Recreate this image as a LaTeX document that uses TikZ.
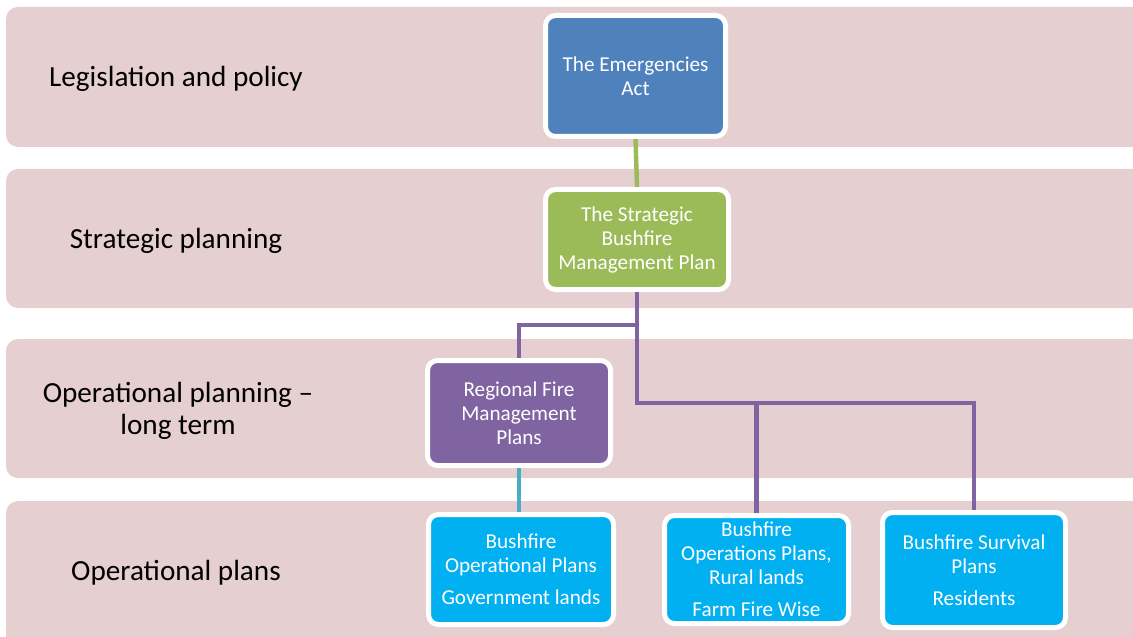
\documentclass[tikz,border=0pt]{standalone}
\usepackage{fontspec}
\setmainfont{Carlito}
\usepackage{tikz}

\definecolor{bandpink}{RGB}{230,207,208}
\definecolor{actblue}{RGB}{79,129,189}
\definecolor{stratgreen}{RGB}{155,187,89}
\definecolor{regpurple}{RGB}{128,100,162}
\definecolor{opcyan}{RGB}{0,176,240}
\definecolor{linkcyan}{RGB}{75,172,198}

\tikzset{
  band/.style={fill=bandpink, rounded corners=6pt},
  levellabel/.style={align=center, font=\fontsize{14.6}{16}\selectfont},
  planbox/.style={draw=white, line width=2.5pt, rounded corners=5pt, inner sep=0pt,
    align=center, text=white, font=\fontsize{10.6}{12}\selectfont},
  link/.style={line width=2.2pt}
}

\begin{document}
\begin{tikzpicture}[x=0.5pt,y=-0.5pt]
				\useasboundingbox (0,0) rectangle (1133,636);
				\clip (0,0) rectangle (1133,636);
				% bands
				\fill[band] (6,7) rectangle (1160,147);
				\fill[band] (6,169) rectangle (1160,308);
				\fill[band] (6,339) rectangle (1160,478);
				\fill[band] (6,501) rectangle (1160,660);
				\node[levellabel] (lvlact) at (176,79) {Legislation and policy};
				\node[levellabel] (lvlstrat) at (176,241) {Strategic planning};
				\node[levellabel] (lvlreg) at (178,411) {Operational planning --\\long term};
				\node[levellabel] (lvlop) at (176,573) {Operational plans};
				% plan boxes
				\node[planbox, fill=actblue, minimum width=90pt, minimum height=60.5pt] (act) at (635.5,76) {The Emergencies\\Act};
				\node[planbox, fill=stratgreen, minimum width=91.5pt, minimum height=50pt] (strat) at (637,239.5) {The Strategic\\Bushfire\\Management Plan};
				\node[planbox, fill=regpurple, minimum width=91.5pt, minimum height=52.5pt] (reg) at (519,413) {Regional Fire\\Management\\Plans};
				\node[planbox, fill=opcyan, minimum width=92.5pt, minimum height=55pt] (govt) at (521,569.5) {Bushfire\\Operational Plans\\[4pt]Government lands};
				\node[planbox, fill=opcyan, minimum width=92pt, minimum height=54pt] (rural) at (756.5,569.5) {Bushfire\\Operations Plans,\\Rural lands\\[4pt]Farm Fire Wise};
				\node[planbox, fill=opcyan, minimum width=91.5pt, minimum height=57.5pt] (resid) at (974,570) {Bushfire Survival\\Plans\\[4pt]Residents};
				% connectors
				\coordinate (split) at (637,325);
				\coordinate (branch) at (637,403);
				\draw[link, stratgreen] (act.south) -- (strat.north);
				\draw[link, regpurple] (strat.south) -- (split) -| (reg.north);
				\draw[link, regpurple] (split) -- (branch) -| (resid.north);
				\draw[link, regpurple] (rural.north) |- (branch);
				\draw[link, linkcyan] (reg.south) -- (reg.south |- govt.north);
			\end{tikzpicture}
\end{document}
